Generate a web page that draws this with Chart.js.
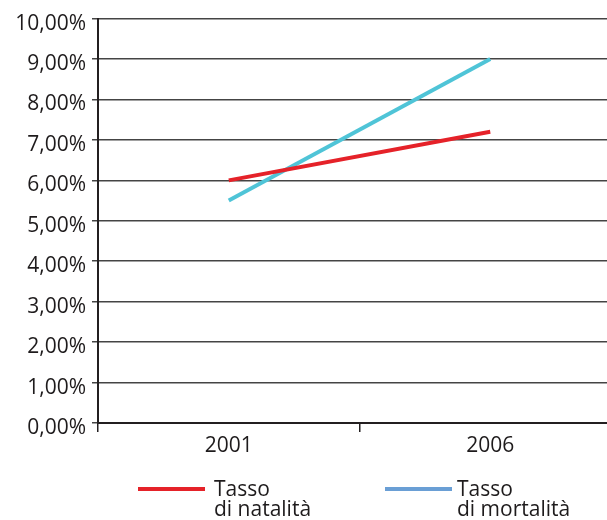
<!DOCTYPE html>
<html>
<head>
<meta charset="utf-8">
<script src="https://cdn.jsdelivr.net/npm/chart.js@4"></script>
<style>
  html, body { margin: 0; padding: 0; background: #fff; overflow: hidden; }
  canvas { display: block; }
</style>
</head>
<body>
<canvas id="c" width="621" height="520"></canvas>
<script>
// Birth and death rates, years 2001 and 2006 (percent)
const years = ['2001', '2006'];
const natalita = [6.0, 7.2];
const mortalita = [5.5, 9.0];
const seriesLabels = [['Tasso', 'di natalità'], ['Tasso', 'di mortalità']];
const lineColors = ['#e52229', '#4fc4d7'];
const legendColors = ['#e52229', '#6a9fd5'];

const FONT = '"Open Sans", "Noto Sans", sans-serif';

// Two-line legend drawn below the x axis
const legendPlugin = {
  id: 'twoLineLegend',
  afterDraw(chart) {
    const ctx = chart.ctx;
    const items = [
      { x1: 138, x2: 205, tx: 214 },
      { x1: 385, x2: 452, tx: 457 }
    ];
    ctx.save();
    chart.data.datasets.forEach((ds, i) => {
      const it = items[i];
      ctx.strokeStyle = legendColors[i];
      ctx.lineWidth = 4;
      ctx.beginPath();
      ctx.moveTo(it.x1, 489);
      ctx.lineTo(it.x2, 489);
      ctx.stroke();
      ctx.fillStyle = '#1e1b1c';
      ctx.font = '21px ' + FONT;
      ctx.textBaseline = 'alphabetic';
      ctx.textAlign = 'left';
      seriesLabels[i].forEach((t, k) => ctx.fillText(t, it.tx, 496 + k * 19.5));
    });
    ctx.restore();
  }
};

new Chart(document.getElementById('c'), {
  type: 'line',
  data: {
    labels: years,
    datasets: [
      { label: 'Tasso di natalità', data: natalita, borderColor: lineColors[0], borderWidth: 4, pointRadius: 0, tension: 0 },
      { label: 'Tasso di mortalità', data: mortalita, borderColor: lineColors[1], borderWidth: 4, pointRadius: 0, tension: 0 }
    ]
  },
  options: {
    responsive: false,
    animation: false,
    devicePixelRatio: 1,
    layout: { padding: { top: 17, right: 0, left: 0, bottom: 0 } },
    plugins: { legend: { display: false }, tooltip: { enabled: false } },
    scales: {
      x: {
        type: 'category',
        offset: true,
        grid: { offset: true, drawOnChartArea: false, drawTicks: true, tickLength: 9, color: '#231f20', lineWidth: 1.5 },
        border: { display: true, color: '#231f20', width: 2 },
        ticks: { color: '#1e1b1c', font: { family: FONT, size: 21 }, padding: 1 },
        afterFit(scale) { scale.height = 97; }
      },
      y: {
        min: 0,
        max: 10,
        ticks: {
          stepSize: 1,
          color: '#1e1b1c',
          font: { family: FONT, size: 21 },
          padding: 6,
          labelOffset: 5,
          callback: v => v.toFixed(2).replace('.', ',') + '%'
        },
        grid: { color: '#444', lineWidth: 1.5, tickLength: 6, drawTicks: true },
        border: { display: true, color: '#231f20', width: 2 },
        afterFit(scale) { scale.width = 98; }
      }
    }
  },
  plugins: [legendPlugin]
});
</script>
</body>
</html>
